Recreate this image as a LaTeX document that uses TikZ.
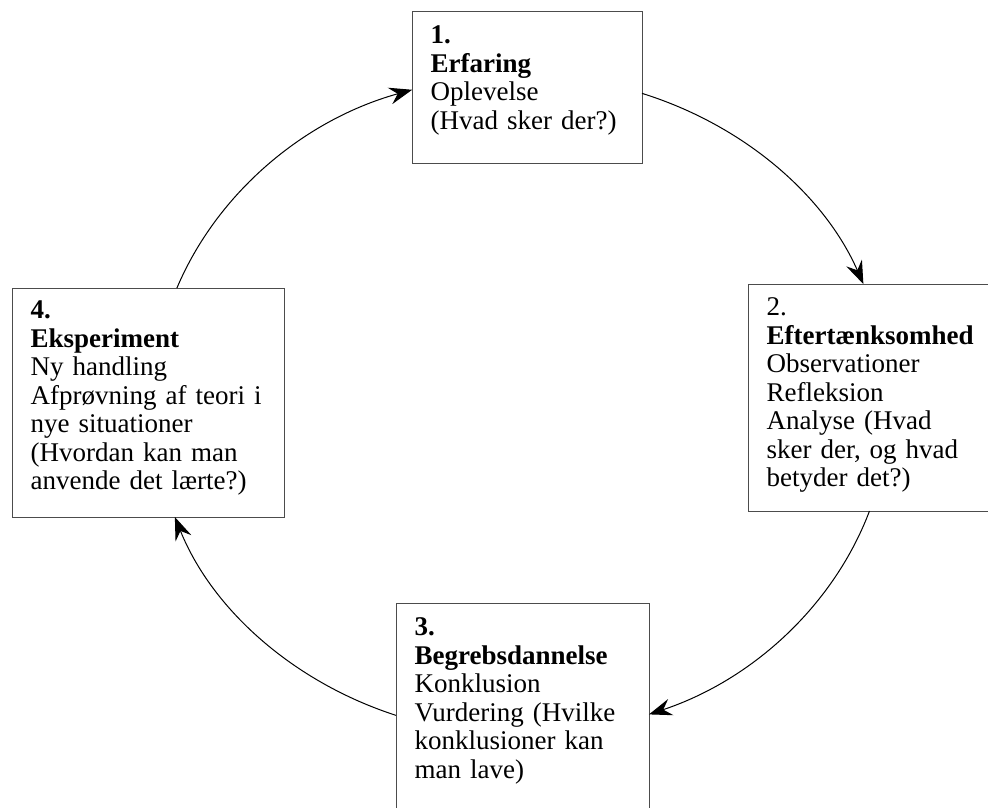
\documentclass[tikz,border=0pt]{standalone}
\usepackage{fontspec}
\setmainfont{Liberation Serif}
\usepackage{tikz}
\usetikzlibrary{arrows.meta,calc}
\hyphenpenalty=10000

\tikzset{
  stage/.style={draw=black!70, line width=1.2pt, anchor=north west, inner xsep=18pt,
    inner ysep=0pt, align=left, font=\fontsize{27pt}{28.5pt}\selectfont},
  flow/.style={line width=1pt, -{Stealth[length=23pt,width=17pt,inset=8pt]}}
}

\begin{document}
\begin{tikzpicture}[x=1pt,y=1pt]
\useasboundingbox (0,0) rectangle (988,807);
\clip (0,0) rectangle (988,807);

\node[stage, text width=194pt] (n1) at (412,796)
  {\rule{0pt}{32pt}\textbf{1.}\\ \textbf{Erfaring}\\ Oplevelse\\ (Hvad sker der?)\rule[-34.5pt]{0pt}{34.5pt}};
\node[stage, text width=204pt] (n2) at (748,523)
  {\rule{0pt}{31pt}2.\\ \textbf{Eftertænksomhed}\\ Observationer\\ Refleksion\\ Analyse (Hvad\\ sker der, og hvad\\ betyder det?)\rule[-25pt]{0pt}{25pt}};
\node[stage, text width=217pt] (n3) at (396,204)
  {\rule{0pt}{32pt}\textbf{3.}\\ \textbf{Begrebsdannelse}\\ Konklusion\\ Vurdering (Hvilke\\ konklusioner kan\\ man lave)\rule[-45pt]{0pt}{45pt}};
\node[stage, text width=236pt] (n4) at (12,519)
  {\rule{0pt}{30pt}\textbf{4.}\\ \textbf{Eksperiment}\\ Ny handling\\ Afprøvning af teori i\\ nye situationer\\ (Hvordan kan man\\ anvende det lærte?)\rule[-28pt]{0pt}{28pt}};

% the cycle
\coordinate (c) at (521,402);
\coordinate (s41) at ($(c)+(159.24:368 and 330)$);
\coordinate (s12) at ($(c)+(70.8:368 and 330)$);
\coordinate (s23) at ($(c)+(-18.74:368 and 330)$);
\coordinate (s34) at ($(c)+(250.14:368 and 330)$);
\draw[flow] (s41) arc[start angle=159.24, end angle=107.2, x radius=368, y radius=330];
\draw[flow] (s12) arc[start angle=70.8, end angle=21.5, x radius=368, y radius=330];
\draw[flow] (s23) arc[start angle=-18.74, end angle=-69.65, x radius=368, y radius=330];
\draw[flow] (s34) arc[start angle=250.14, end angle=199.84, x radius=368, y radius=330];
\end{tikzpicture}
\end{document}
